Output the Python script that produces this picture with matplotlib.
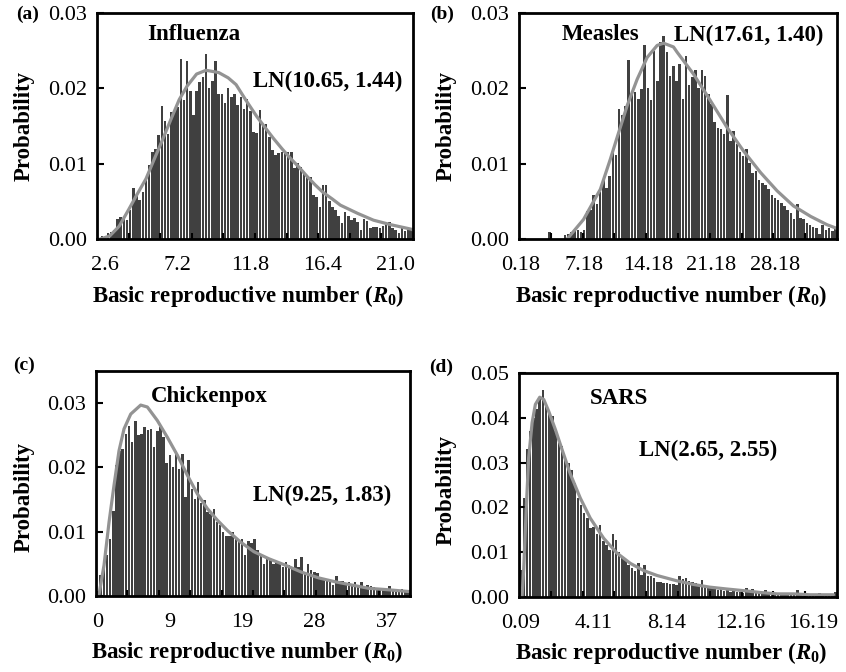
import numpy as np
import matplotlib.pyplot as plt

## 字体: Times 风格衬线体, R0 用粗斜体
plt.rcParams['font.family'] = ['Liberation Serif', 'DejaVu Serif']
plt.rcParams['mathtext.fontset'] = 'custom'
plt.rcParams['mathtext.rm'] = 'Liberation Serif:bold'
plt.rcParams['mathtext.it'] = 'Liberation Serif:italic:bold'
plt.rcParams['mathtext.bf'] = 'Liberation Serif:bold'

### 数据
## (a) Influenza, bins of 0.2 starting at 2.1
flu_lo, flu_w = 2.1, 0.2
flu_p = [0.0001, 0.0004, 0.0002, 0.0008, 0.0009, 0.0012, 0.0027, 0.0029, 0.0030, 0.0025,
         0.0039, 0.0068, 0.0058, 0.0052, 0.0062, 0.0080, 0.0098, 0.0115, 0.0120, 0.0138,
         0.0177, 0.0157, 0.0140, 0.0168, 0.0170, 0.0175, 0.0239, 0.0185, 0.0236, 0.0196,
         0.0165, 0.0197, 0.0208, 0.0215, 0.0245, 0.0200, 0.0210, 0.0236, 0.0193, 0.0192,
         0.0180, 0.0200, 0.0188, 0.0192, 0.0178, 0.0188, 0.0172, 0.0186, 0.0170, 0.0142,
         0.0141, 0.0171, 0.0150, 0.0153, 0.0136, 0.0118, 0.0111, 0.0114, 0.0116, 0.0115,
         0.0115, 0.0116, 0.0094, 0.0101, 0.0096, 0.0088, 0.0085, 0.0083, 0.0059, 0.0056,
         0.0043, 0.0072, 0.0072, 0.0050, 0.0043, 0.0039, 0.0030, 0.0021, 0.0036, 0.0030,
         0.0025, 0.0028, 0.0023, 0.0012, 0.0026, 0.0024, 0.0014, 0.0016, 0.0016, 0.0014,
         0.0017, 0.0021, 0.0022, 0.0014, 0.0012, 0.0008, 0.0014, 0.0010, 0.0013, 0.0015]
flu_cx = [2.3, 2.9, 3.5, 4.1, 4.6, 5.2, 5.7, 6.25, 6.8, 7.3, 7.8, 8.4, 9.0, 9.8, 10.4, 10.9,
          11.5, 12.2, 12.7, 13.25, 13.8, 14.3, 14.9, 15.4, 15.9, 16.4, 17.0, 17.5, 18.6,
          19.6, 20.7, 22.0, 22.1]
flu_cy = [0.0, 0.0004, 0.0017, 0.0039, 0.0058, 0.0080, 0.0105, 0.0132, 0.0160, 0.0185,
          0.0203, 0.0219, 0.0224, 0.0221, 0.0214, 0.0205, 0.0185, 0.0163, 0.0149, 0.0134,
          0.0120, 0.0108, 0.0095, 0.0083, 0.0072, 0.0062, 0.0053, 0.0045, 0.0034, 0.0025,
          0.0019, 0.0013, 0.0012]
flu_ticks = [2.6, 7.2, 11.8, 16.4, 21.0]
flu_labels = ['2.6', '7.2', '11.8', '16.4', '21.0']

## (b) Measles, bins of 0.35 starting at 0
mea_lo, mea_w = 0.0, 0.35
mea_p = [0, 0, 0, 0, 0, 0, 0, 0, 0, 0.0009,
         0, 0, 0, 0, 0.0005, 0.0007, 0.0009, 0.0010, 0.0012, 0.0009,
         0.0012, 0.0037, 0.0038, 0.0058, 0.0046, 0.0062, 0.0079, 0.0068, 0.0084, 0.0120,
         0.0111, 0.0172, 0.0164, 0.0177, 0.0237, 0.0192, 0.0195, 0.0186, 0.0199, 0.0258,
         0.0201, 0.0185, 0.0250, 0.0210, 0.0261, 0.0269, 0.0248, 0.0216, 0.0230, 0.0210,
         0.0232, 0.0186, 0.0243, 0.0205, 0.0215, 0.0224, 0.0200, 0.0224, 0.0217, 0.0192,
         0.0179, 0.0155, 0.0148, 0.0146, 0.0140, 0.0191, 0.0130, 0.0143, 0.0126, 0.0115,
         0.0110, 0.0120, 0.0101, 0.0088, 0.0090, 0.0079, 0.0075, 0.0072, 0.0066, 0.0059,
         0.0055, 0.0052, 0.0048, 0.0044, 0.0039, 0.0035, 0.0026, 0.0046, 0.0028, 0.0027,
         0.0021, 0.0019, 0.0016, 0.0015, 0.0007, 0.0018, 0.0012, 0.0015, 0.0010, 0.0014]
mea_cx = [5.3, 7.1, 8.95, 10.05, 10.8, 11.9, 13.0, 14.1, 15.2, 15.9, 17.0, 17.4, 19.2,
          21.05, 22.9, 24.7, 26.6, 28.4, 30.2, 32.1, 33.9, 35.0]
mea_cy = [0.0, 0.0026, 0.0066, 0.0106, 0.0135, 0.0177, 0.0212, 0.0241, 0.0257, 0.0260,
          0.0255, 0.0248, 0.0219, 0.0184, 0.0148, 0.0117, 0.0088, 0.0064, 0.0044, 0.0030,
          0.0019, 0.0014]
mea_ticks = [0.175, 7.175, 14.175, 21.175, 28.175]
mea_labels = ['0.18', '7.18', '14.18', '21.18', '28.18']

## (c) Chickenpox, bins of 0.4 starting at 0
chi_lo, chi_w = 0.0, 0.4
chi_p = [0.0008, 0.0032, 0.0050, 0.0063, 0.0089, 0.0133, 0.0204, 0.0226, 0.0228, 0.0252,
         0.0265, 0.0240, 0.0273, 0.0250, 0.0252, 0.0263, 0.0258, 0.0260, 0.0232, 0.0257,
         0.0263, 0.0247, 0.0207, 0.0219, 0.0200, 0.0226, 0.0198, 0.0221, 0.0154, 0.0211,
         0.0167, 0.0151, 0.0177, 0.0144, 0.0150, 0.0130, 0.0128, 0.0135, 0.0115, 0.0110,
         0.0099, 0.0094, 0.0094, 0.0099, 0.0089, 0.0084, 0.0089, 0.0063, 0.0085, 0.0082,
         0.0089, 0.0071, 0.0066, 0.0050, 0.0061, 0.0058, 0.0050, 0.0055, 0.0053, 0.0045,
         0.0053, 0.0048, 0.0042, 0.0058, 0.0045, 0.0061, 0.0037, 0.0049, 0.0040, 0.0037,
         0.0035, 0.0030, 0.0027, 0.0027, 0.0022, 0.0017, 0.0031, 0.0024, 0.0023, 0.0019,
         0.0022, 0.0017, 0.0021, 0.0017, 0.0022, 0.0014, 0.0017, 0.0015, 0.0014, 0.0011,
         0.0012, 0.0010, 0.0009, 0.0016, 0.0007, 0.0009, 0.0010, 0.0011, 0.0008, 0.0009]
chi_cx = [0.38, 1.02, 1.66, 2.29, 2.93, 3.57, 4.42, 5.69, 6.54, 7.81, 9.08, 10.36, 11.63,
          12.9, 14.18, 15.45, 16.73, 18.4, 20.1, 22.0, 24.1, 26.2, 28.4, 30.5, 32.6, 34.7,
          36.9, 39.8]
chi_cy = [0.0002, 0.0048, 0.0115, 0.0172, 0.0226, 0.0260, 0.0283, 0.0297, 0.0294, 0.0273,
          0.0247, 0.0219, 0.0188, 0.0159, 0.0136, 0.0118, 0.0102, 0.0084, 0.0069, 0.0058,
          0.0048, 0.0037, 0.0028, 0.0022, 0.0017, 0.0012, 0.0010, 0.0007]
chi_ticks = [0.2, 9.4, 18.6, 27.8, 37.0]
chi_labels = ['0', '9', '19', '28', '37']

## (d) SARS, bins of 0.175 starting at 0
sar_lo, sar_w = 0.0, 0.175
sar_p = [0.0060, 0.0220, 0.0330, 0.0370, 0.0400, 0.0420, 0.0445, 0.0463, 0.0430, 0.0410,
         0.0404, 0.0370, 0.0344, 0.0337, 0.0310, 0.0300, 0.0284, 0.0254, 0.0220, 0.0206,
         0.0187, 0.0176, 0.0154, 0.0157, 0.0140, 0.0161, 0.0124, 0.0116, 0.0105, 0.0140,
         0.0128, 0.0101, 0.0087, 0.0083, 0.0072, 0.0064, 0.0057, 0.0075, 0.0049, 0.0072,
         0.0046, 0.0046, 0.0042, 0.0034, 0.0034, 0.0031, 0.0031, 0.0030, 0.0028, 0.0027,
         0.0046, 0.0040, 0.0042, 0.0036, 0.0034, 0.0031, 0.0027, 0.0038, 0.0024, 0.0019,
         0.0023, 0.0018, 0.0016, 0.0019, 0.0013, 0.0015, 0.0012, 0.0013, 0.0011, 0.0012,
         0.0010, 0.0019, 0.0015, 0.0017, 0.0013, 0.0008, 0.0012, 0.0015, 0.0010, 0.0008,
         0.0006, 0.0008, 0.0007, 0.0006, 0.0004, 0.0007, 0.0006, 0.0016, 0.0004, 0.0003,
         0.0004, 0.0004, 0.0003, 0.0003, 0.0008, 0.0005, 0.0004, 0.0003, 0.0004, 0.0012]
sar_cx = [0.165, 0.26, 0.40, 0.53, 0.72, 0.90, 1.14, 1.36, 1.63, 2.0, 2.37, 2.82, 3.37,
          3.92, 4.66, 5.39, 6.13, 6.86, 7.6, 8.7, 9.6, 10.5, 11.4, 12.4, 13.3, 14.2, 15.1,
          16.0, 17.3]
sar_cy = [0.0, 0.0064, 0.0199, 0.0310, 0.0389, 0.0430, 0.0446, 0.0441, 0.0415, 0.0374,
          0.0329, 0.0275, 0.0221, 0.0176, 0.0131, 0.0098, 0.0075, 0.0059, 0.0048, 0.0036,
          0.0028, 0.0022, 0.0018, 0.0014, 0.0010, 0.0007, 0.0007, 0.0005, 0.0005]
sar_ticks = [0.0875, 4.1125, 8.1375, 12.1625, 16.1875]
sar_labels = ['0.09', '4.11', '8.14', '12.16', '16.19']

### 各子图的设置
panels = [
    dict(tag='(a)', name='Influenza', ln='LN(10.65, 1.44)', lo=flu_lo, w=flu_w, p=flu_p,
         cx=flu_cx, cy=flu_cy, ticks=flu_ticks, labels=flu_labels, ymax=0.03,
         rect=[0.1147, 0.6443, 0.3735, 0.3363], name_xy=(0.307, 0.903), ln_xy=(0.731, 0.696),
         tag_xy=(0.032, 0.978), ylab_y=0.5),
    dict(tag='(b)', name='Measles', ln='LN(17.61, 1.40)', lo=mea_lo, w=mea_w, p=mea_p,
         cx=mea_cx, cy=mea_cy, ticks=mea_ticks, labels=mea_labels, ymax=0.03,
         rect=[0.6135, 0.6443, 0.3759, 0.3363], name_xy=(0.257, 0.903), ln_xy=(0.721, 0.903),
         tag_xy=(0.522, 0.978), ylab_y=0.5),
    dict(tag='(c)', name='Chickenpox', ln='LN(9.25, 1.83)', lo=chi_lo, w=chi_w, p=chi_p,
         cx=chi_cx, cy=chi_cy, ticks=chi_ticks, labels=chi_labels, ymax=0.035,
         rect=[0.1135, 0.1131, 0.3712, 0.3348], name_xy=(0.362, 0.886), ln_xy=(0.719, 0.449),
         tag_xy=(0.028, 0.457), ylab_y=0.44),
    dict(tag='(d)', name='SARS', ln='LN(2.65, 2.55)', lo=sar_lo, w=sar_w, p=sar_p,
         cx=sar_cx, cy=sar_cy, ticks=sar_ticks, labels=sar_labels, ymax=0.05,
         rect=[0.6135, 0.1116, 0.3759, 0.3333], name_xy=(0.314, 0.887), ln_xy=(0.595, 0.653),
         tag_xy=(0.522, 0.454), ylab_y=0.48),
]

fig = plt.figure(figsize=(8.46, 6.72), dpi=100)

for pn in panels:
    ax = fig.add_axes(pn['rect'])
    n = len(pn['p'])
    centers = pn['lo'] + pn['w'] * (np.arange(n) + 0.5)

    ## 直方图 + 对数正态曲线
    ax.bar(centers, pn['p'], width=pn['w'] * 0.8, color='#404040', linewidth=0)
    ax.plot(pn['cx'], pn['cy'], color='#939393', linewidth=2.3, solid_capstyle='round')

    ax.set_xlim(pn['lo'], pn['lo'] + pn['w'] * 100)
    ax.set_ylim(0, pn['ymax'])

    ## 刻度
    ax.set_xticks(pn['ticks'])
    ax.set_xticklabels(pn['labels'])
    ax.set_xticks([pn['lo'] + pn['w'] * 10 * k for k in range(1, 10)], minor=True)
    ax.set_yticks(np.arange(0, pn['ymax'] + 1e-9, 0.01))
    ax.set_yticklabels(['%.2f' % v for v in np.arange(0, pn['ymax'] + 1e-9, 0.01)])
    ax.tick_params(axis='x', which='major', length=0, pad=12, labelsize=16)
    ax.tick_params(axis='x', which='minor', direction='in', length=4, width=1.5)
    ax.tick_params(axis='y', direction='in', length=5, width=1.5, pad=7, labelsize=16)
    for sp in ax.spines.values():
        sp.set_linewidth(2.0)

    ## 文字说明
    ax.text(pn['name_xy'][0], pn['name_xy'][1], pn['name'], transform=ax.transAxes,
            ha='center', va='center', fontsize=16.5, fontweight='bold')
    ax.text(pn['ln_xy'][0], pn['ln_xy'][1], pn['ln'], transform=ax.transAxes,
            ha='center', va='center', fontsize=16.5, fontweight='bold')
    ax.text(0.48, -0.25, 'Basic reproductive number ($\\mathit{R}_\\mathrm{0}$)',
            transform=ax.transAxes, ha='center', va='center', fontsize=16.5, fontweight='bold')
    ax.text(-0.23, pn['ylab_y'], 'Probability', transform=ax.transAxes, rotation=90,
            ha='center', va='center', fontsize=16.5, fontweight='bold')
    fig.text(pn['tag_xy'][0], pn['tag_xy'][1], pn['tag'], ha='center', va='center',
             fontsize=14, fontweight='bold')

plt.savefig('out.png', dpi=100)
